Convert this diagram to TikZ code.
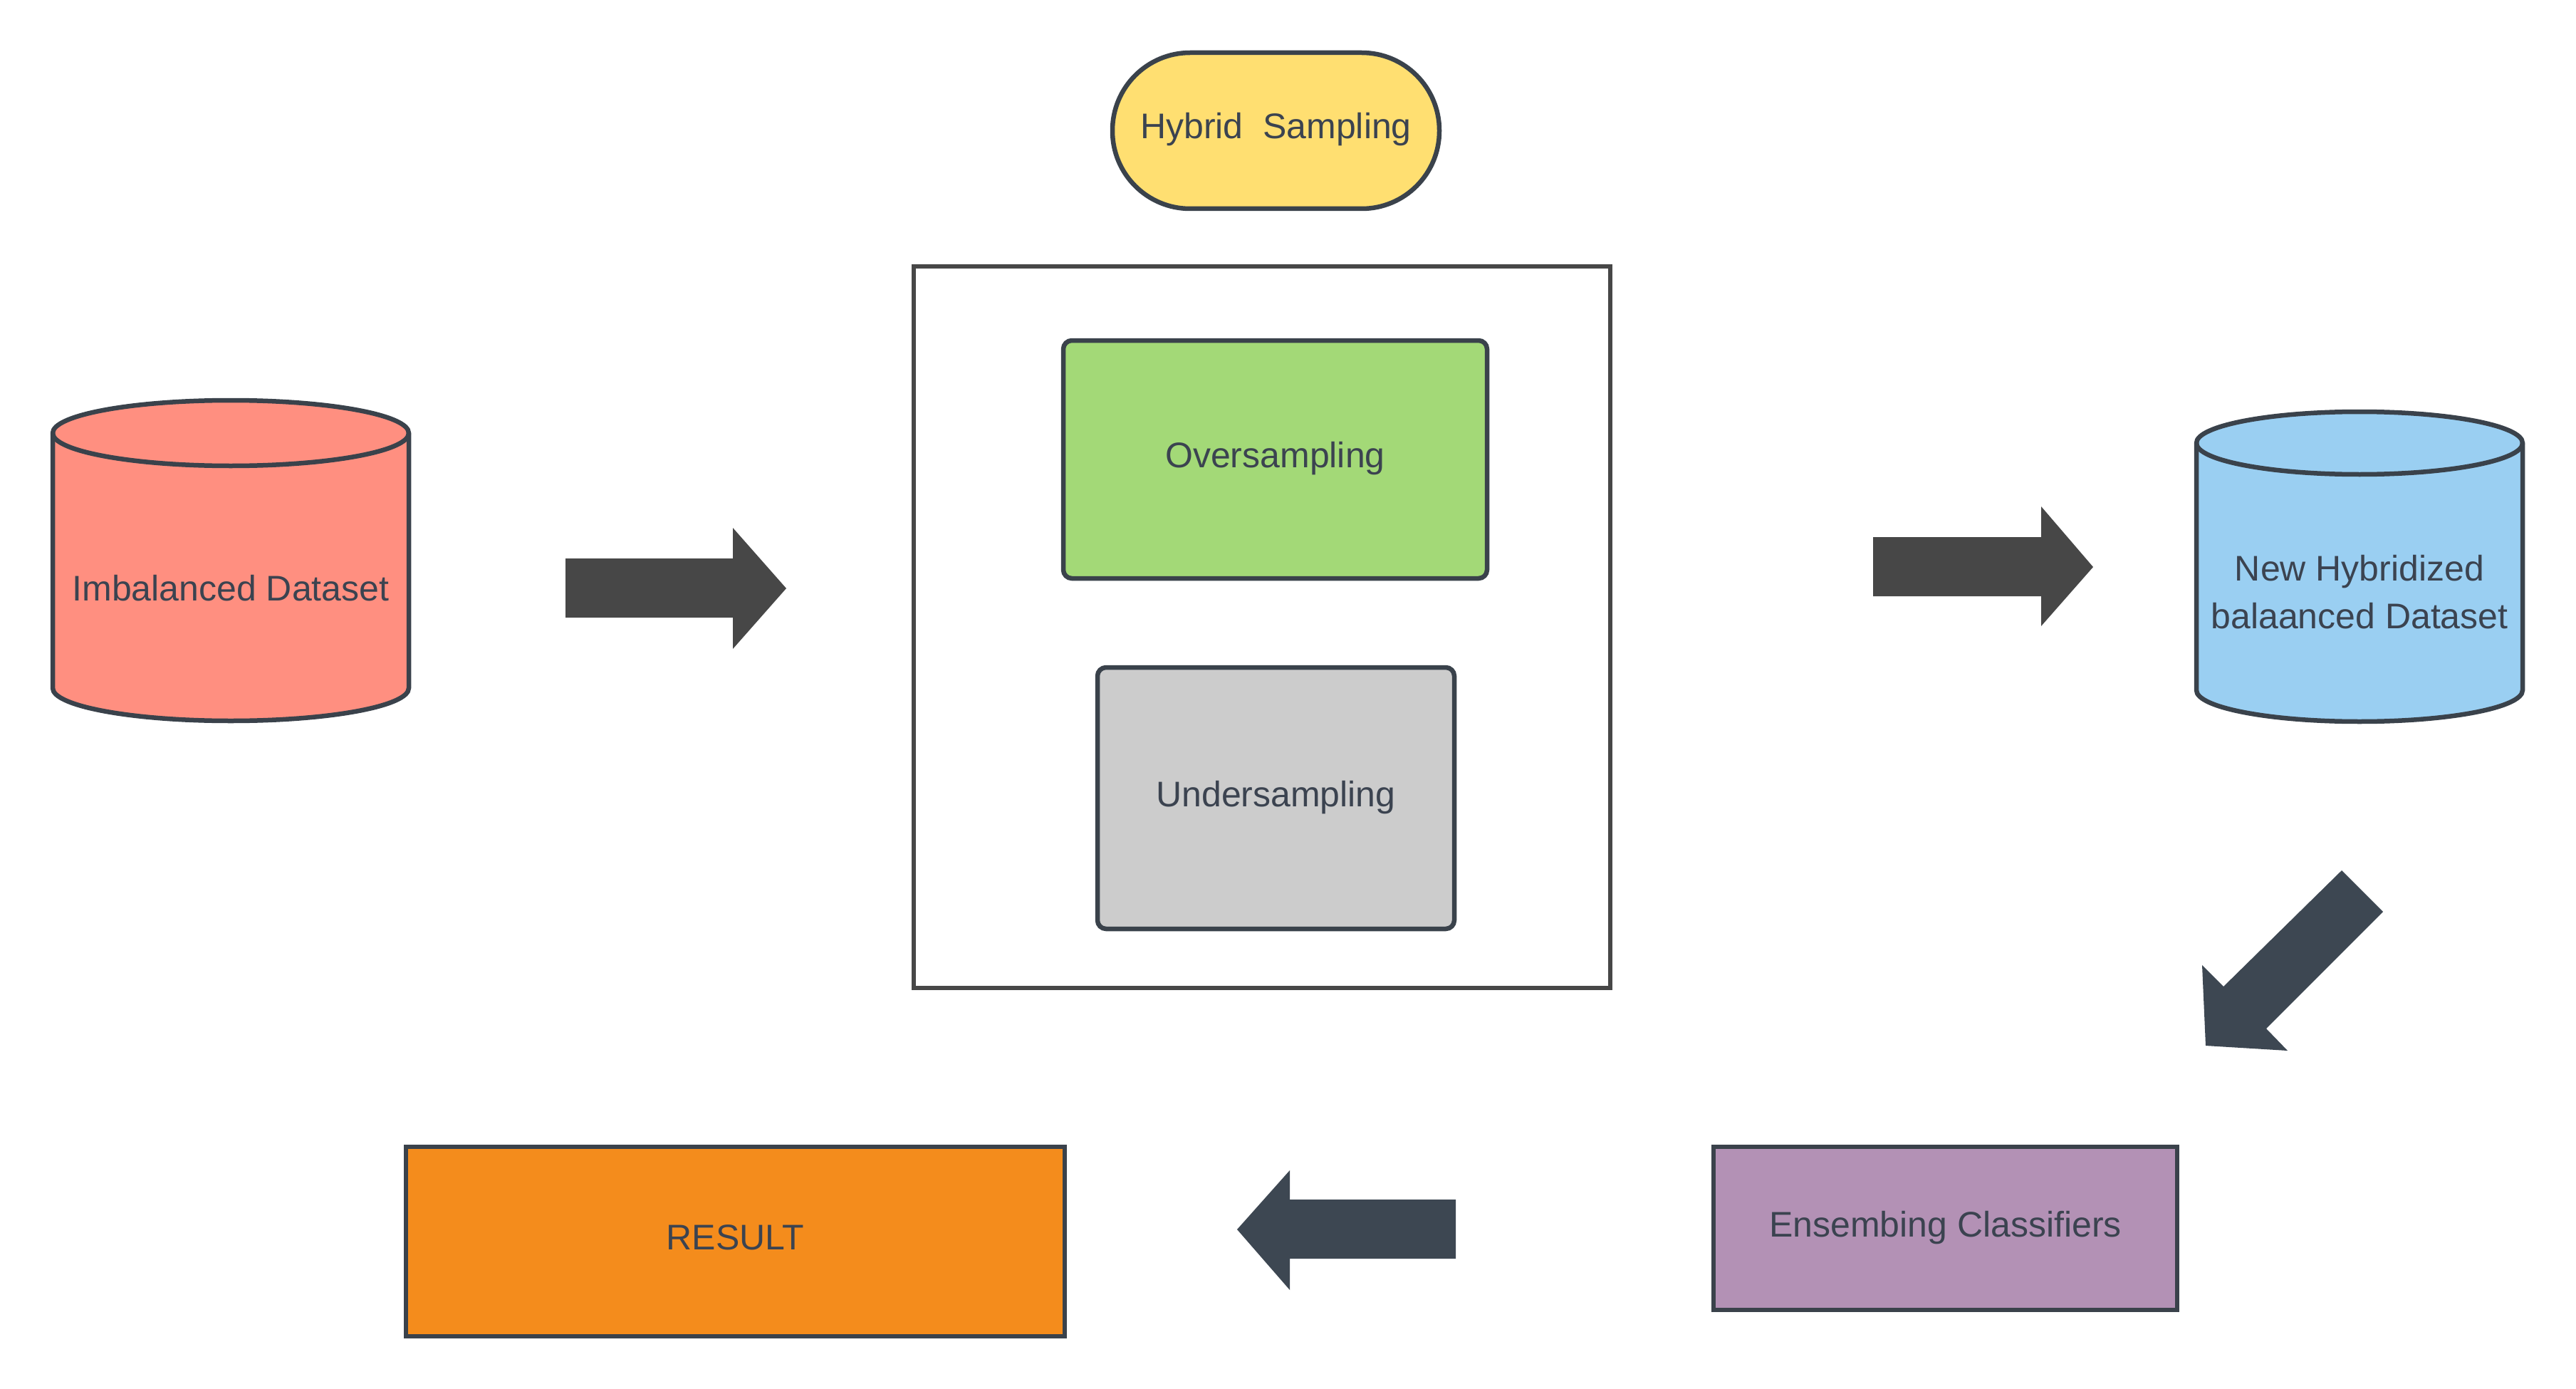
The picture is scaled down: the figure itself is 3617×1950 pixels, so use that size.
\documentclass[tikz,border=0pt]{standalone}
\usepackage{fontspec}
\setmainfont{Liberation Sans}
\usetikzlibrary{shapes.geometric}
\definecolor{strokec}{HTML}{3A424B}
\definecolor{textc}{HTML}{3B4350}
\definecolor{framec}{HTML}{474747}
\definecolor{yellowc}{HTML}{FFDF71}
\definecolor{greenc}{HTML}{A3D977}
\definecolor{grayc}{HTML}{CCCCCC}
\definecolor{redc}{HTML}{FF8F80}
\definecolor{bluec}{HTML}{9ACFF2}
\definecolor{purplec}{HTML}{B391B5}
\definecolor{orangec}{HTML}{F48C1C}
\definecolor{arrowa}{HTML}{474747}
\definecolor{arrowb}{HTML}{3D4752}
\tikzset{
  box/.style={draw=strokec, line width=6.5pt, inner sep=0pt, outer sep=0pt,
    text=textc, font=\fontsize{50}{67}\selectfont, align=center,
    text height=36pt, text depth=13pt},
  cyl/.style={draw=strokec, line width=6.5pt},
  lbl/.style={text=textc, font=\fontsize{50}{67}\selectfont, align=center, inner sep=0pt}
}
\begin{document}
\begin{tikzpicture}[x=1pt,y=1pt]
\useasboundingbox[fill=white] (0,0) rectangle (3617,-1950);

% Hybrid Sampling
\node[box, fill=yellowc, rounded corners=109pt, minimum width=459pt, minimum height=219pt] (hyb) at (1791.5,-183.5) {Hybrid\ \ Sampling};

% frame
\node[draw=framec, line width=5.5pt, minimum width=978pt, minimum height=1013pt, inner sep=0pt] (frame) at (1772,-880.5) {};

% Oversampling / Undersampling
\node[box, fill=greenc, rounded corners=12pt, minimum width=595pt, minimum height=334pt] (over) at (1790.5,-645) {Oversampling};
\node[box, fill=grayc, rounded corners=12pt, minimum width=501pt, minimum height=367pt] (under) at (1791.5,-1120.5) {Undersampling};

% Imbalanced cylinder
\fill[redc] (74,-608) -- (74,-966) arc[start angle=180, end angle=360, x radius=250pt, y radius=46pt] -- (574,-608) arc[start angle=0, end angle=180, x radius=250pt, y radius=46pt] -- cycle;
\draw[cyl] (74,-608) -- (74,-966) arc[start angle=180, end angle=360, x radius=250pt, y radius=46pt] -- (574,-608) arc[start angle=0, end angle=180, x radius=250pt, y radius=46pt] -- cycle;
\draw[cyl] (74,-608) arc[start angle=180, end angle=360, x radius=250pt, y radius=46pt];
\node[lbl] (imb) at (324,-826) {Imbalanced Dataset};

% New Hybridized cylinder
\fill[bluec] (3084,-622) -- (3084,-969) arc[start angle=180, end angle=360, x radius=229pt, y radius=44pt] -- (3542,-622) arc[start angle=0, end angle=180, x radius=229pt, y radius=44pt] -- cycle;
\draw[cyl] (3084,-622) -- (3084,-969) arc[start angle=180, end angle=360, x radius=229pt, y radius=44pt] -- (3542,-622) arc[start angle=0, end angle=180, x radius=229pt, y radius=44pt] -- cycle;
\draw[cyl] (3084,-622) arc[start angle=180, end angle=360, x radius=229pt, y radius=44pt];
\node[lbl] (newh) at (3313,-831.5) {New Hybridized\\balaanced Dataset};

% Ensembing Classifiers
\node[box, fill=purplec, minimum width=651pt, minimum height=229pt] (ens) at (2731.5,-1724.5) {Ensembing Classifiers};

% RESULT
\node[box, fill=orangec, minimum width=925pt, minimum height=266pt] (res) at (1032.5,-1743) {RESULT};

% block arrows
\fill[arrowa] (794,-784) -- (1029,-784) -- (1029,-741) -- (1104,-826) -- (1029,-911) -- (1029,-867) -- (794,-867) -- cycle;
\fill[arrowa] (2630,-754) -- (2866,-754) -- (2866,-711) -- (2939,-796) -- (2866,-879) -- (2866,-837) -- (2630,-837) -- cycle;
\fill[arrowb] (3288,-1222) -- (3346,-1280) -- (3182,-1444) -- (3212,-1475) -- (3097,-1468) -- (3092,-1355) -- (3122,-1385) -- cycle;
\fill[arrowb] (2044,-1684) -- (1811,-1684) -- (1811,-1643) -- (1737,-1726) -- (1811,-1811) -- (1811,-1767) -- (2044,-1767) -- cycle;
\end{tikzpicture}
\end{document}
